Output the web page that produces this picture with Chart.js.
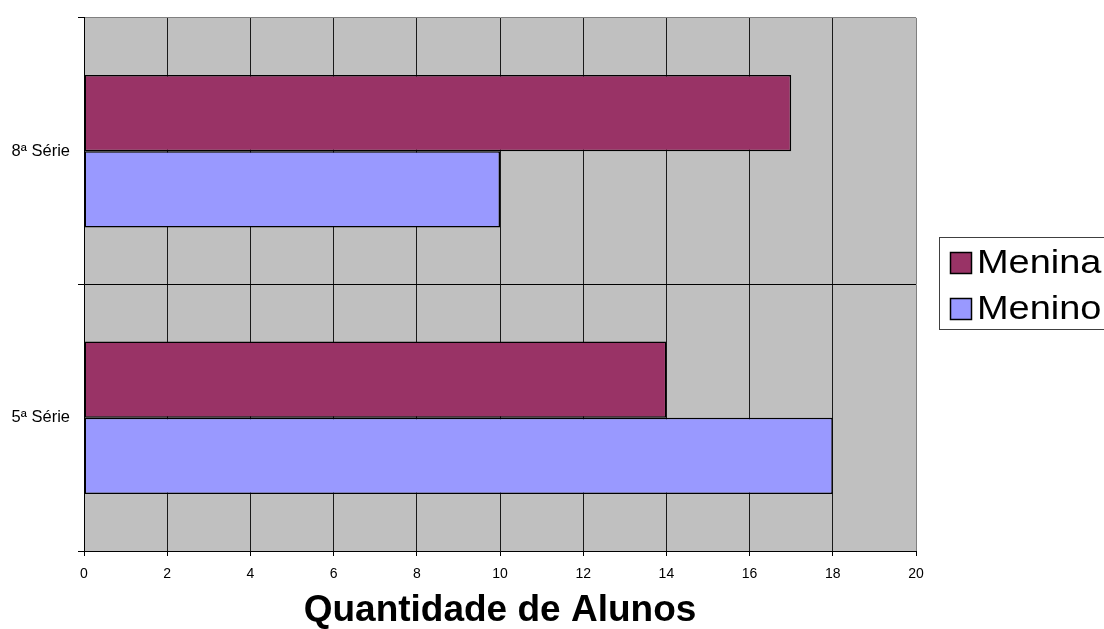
<!DOCTYPE html>
<html>
<head>
<meta charset="utf-8">
<script src="https://cdn.jsdelivr.net/npm/chart.js@4/dist/chart.umd.min.js"></script>
<style>
  html, body { margin: 0; padding: 0; background: #ffffff; }
  #wrap { width: 1104px; height: 629px; }
</style>
</head>
<body>
<div id="wrap"><canvas id="chart" width="1104" height="629"></canvas></div>
<script>
// Turmas (de cima para baixo) e número de alunos por sexo
const categories = ['8ª Série', '5ª Série'];
const meninaValues = [17, 14];
const meninoValues = [10, 18];
const seriesNames = ['Menina', 'Menino'];
const seriesColors = ['#993366', '#9999FF'];
const axisMin = 0;
const axisMax = 20;
const axisStep = 2;
const axisTitle = 'Quantidade de Alunos';

const FONT = '"Liberation Sans", Arial, Helvetica, sans-serif';

// Fundo cinza da área de plotagem
const plotBackground = {
  id: 'plotBackground',
  beforeDraw(chart) {
    const { ctx, chartArea: a } = chart;
    ctx.save();
    ctx.fillStyle = '#C0C0C0';
    ctx.fillRect(a.left, a.top, a.right - a.left, a.bottom - a.top);
    ctx.restore();
  }
};

// Legenda com moldura, à direita do gráfico
const boxedLegend = {
  id: 'boxedLegend',
  afterDraw(chart) {
    const { ctx } = chart;
    const x0 = 939.5, y0 = 237.5, w = 200, h = 92;
    ctx.save();
    ctx.fillStyle = '#ffffff';
    ctx.fillRect(x0, y0, w, h);
    ctx.strokeStyle = '#404040';
    ctx.lineWidth = 1;
    ctx.strokeRect(x0, y0, w, h);
    chart.data.datasets.forEach((ds, i) => {
      const cy = 263 + i * 46;
      ctx.fillStyle = ds.backgroundColor;
      ctx.fillRect(950, cy - 11, 22, 22);
      ctx.strokeStyle = '#000000';
      ctx.lineWidth = 1.5;
      ctx.strokeRect(950.5, cy - 10.5, 21, 21);
      // texto um pouco alargado na horizontal
      ctx.save();
      ctx.translate(977, cy + 1);
      ctx.scale(1.15, 1);
      ctx.font = '33px ' + FONT;
      ctx.textBaseline = 'middle';
      ctx.textAlign = 'left';
      ctx.fillStyle = '#000000';
      ctx.fillText(ds.label, 0, 0);
      ctx.restore();
    });
    ctx.restore();
  }
};

const datasets = [meninaValues, meninoValues].map((vals, i) => ({
  label: seriesNames[i],
  data: vals,
  backgroundColor: seriesColors[i],
  borderColor: '#000000',
  borderWidth: 1.5,
  borderSkipped: false,
  categoryPercentage: 0.572,
  barPercentage: 1.0
}));

new Chart(document.getElementById('chart'), {
  type: 'bar',
  data: { labels: categories, datasets },
  options: {
    indexAxis: 'y',
    responsive: false,
    animation: false,
    devicePixelRatio: 1,
    layout: { padding: { top: 16, right: 188, left: 0, bottom: 0 } },
    plugins: {
      legend: { display: false },
      tooltip: { enabled: false }
    },
    scales: {
      x: {
        min: axisMin,
        max: axisMax,
        ticks: {
          stepSize: axisStep,
          color: '#000000',
          font: { family: FONT, size: 14 },
          padding: 10,
          maxRotation: 0
        },
        grid: {
          color: (c) => (c.index === 10 ? '#808080' : '#1a1a1a'),
          lineWidth: 1,
          tickLength: 5,
          tickColor: '#000000'
        },
        border: { color: '#000000', width: 1 },
        title: {
          display: true,
          text: axisTitle,
          color: '#000000',
          font: { family: FONT, size: 37, weight: 'bold' },
          padding: { top: 0, bottom: -4 }
        },
        afterFit(scale) { scale.height = 78; }
      },
      y: {
        ticks: {
          color: '#000000',
          font: { family: FONT, size: 16.5 },
          padding: 8
        },
        grid: {
          offset: true,
          color: (c) => (c.index === 0 ? '#808080' : '#000000'),
          lineWidth: 1,
          tickLength: 6,
          tickColor: '#000000'
        },
        border: { color: '#000000', width: 1 },
        afterFit(scale) { scale.width = 84; }
      }
    }
  },
  plugins: [plotBackground, boxedLegend]
});
</script>
</body>
</html>
